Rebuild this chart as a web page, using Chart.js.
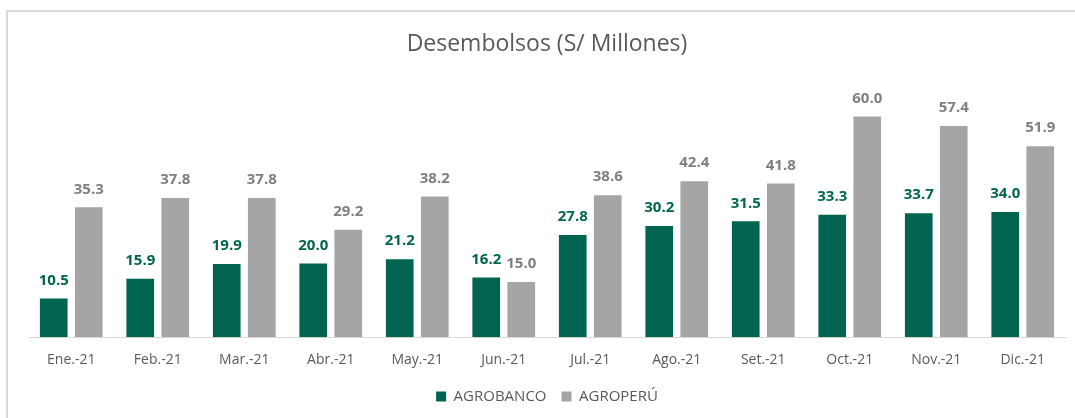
<!DOCTYPE html>
<html lang="es">
<head>
    <meta charset="UTF-8">
    <title>Desembolsos</title>
    <script src="https://cdn.jsdelivr.net/npm/chart.js"></script>
    <style>
        html, body {
            margin: 0;
            padding: 0;
            background: #fff;
        }
        #wrap {
            position: relative;
            width: 1075px;
            height: 418px;
        }
        #frame {
            position: absolute;
            left: 6px;
            top: 10px;
            right: 0;
            bottom: 0;
            border-left: 2px solid #d9d9d9;
            border-top: 2px solid #d9d9d9;
            pointer-events: none;
        }
    </style>
</head>
<body>
<div id="wrap">
    <canvas id="desembolsos" width="1075" height="418"></canvas>
    <div id="frame"></div>
</div>

<script>
    const meses = ['Ene.-21', 'Feb.-21', 'Mar.-21', 'Abr.-21', 'May.-21', 'Jun.-21',
        'Jul.-21', 'Ago.-21', 'Set.-21', 'Oct.-21', 'Nov.-21', 'Dic.-21'];
    const agrobanco = [10.5, 15.9, 19.9, 20.0, 21.2, 16.2, 27.8, 30.2, 31.5, 33.3, 33.7, 34.0];
    const agroperu = [35.3, 37.8, 37.8, 29.2, 38.2, 15.0, 38.6, 42.4, 41.8, 60.0, 57.4, 51.9];

    const verde = '#006450';
    const gris = '#a5a5a5';
    const fuente = "'Open Sans', sans-serif";

    // etiquetas de valor encima de cada barra
    const valores = {
        id: 'valores',
        afterDatasetsDraw(chart) {
            const ctx = chart.ctx;
            ctx.save();
            ctx.font = 'bold 15px ' + fuente;
            ctx.textAlign = 'center';
            ctx.textBaseline = 'middle';
            chart.data.datasets.forEach((ds, i) => {
                ctx.fillStyle = i === 0 ? '#00664f' : '#7f7f7f';
                chart.getDatasetMeta(i).data.forEach((bar, j) => {
                    ctx.fillText(ds.data[j].toFixed(1), bar.x, bar.y - 18);
                });
            });
            ctx.restore();
        }
    };

    let chart = new Chart(document.getElementById('desembolsos').getContext('2d'), {
        type: 'bar',
        data: {
            labels: meses,
            datasets: [{
                label: 'AGROBANCO',
                backgroundColor: verde,
                data: agrobanco
            }, {
                label: 'AGROPERÚ',
                backgroundColor: gris,
                data: agroperu
            }]
        },
        options: {
            responsive: false,
            animation: false,
            categoryPercentage: 0.81,
            barPercentage: 0.79,
            layout: {
                padding: {left: 28, right: 9, top: 0, bottom: 4}
            },
            scales: {
                x: {
                    grid: {display: false},
                    border: {display: true, color: '#d9d9d9', width: 1},
                    ticks: {
                        color: '#595959',
                        padding: 6,
                        font: {family: fuente, size: 14}
                    }
                },
                y: {
                    display: false,
                    min: 0,
                    max: 70
                }
            },
            plugins: {
                title: {
                    display: true,
                    text: 'Desembolsos (S/ Millones)',
                    color: '#595959',
                    padding: {top: 31, bottom: 21},
                    font: {family: fuente, size: 23, weight: 'normal'}
                },
                legend: {
                    position: 'bottom',
                    labels: {
                        color: '#595959',
                        boxWidth: 10,
                        boxHeight: 10,
                        padding: 15,
                        font: {family: fuente, size: 15}
                    }
                },
                tooltip: {enabled: false}
            }
        },
        plugins: [valores]
    });
</script>
</body>
</html>
